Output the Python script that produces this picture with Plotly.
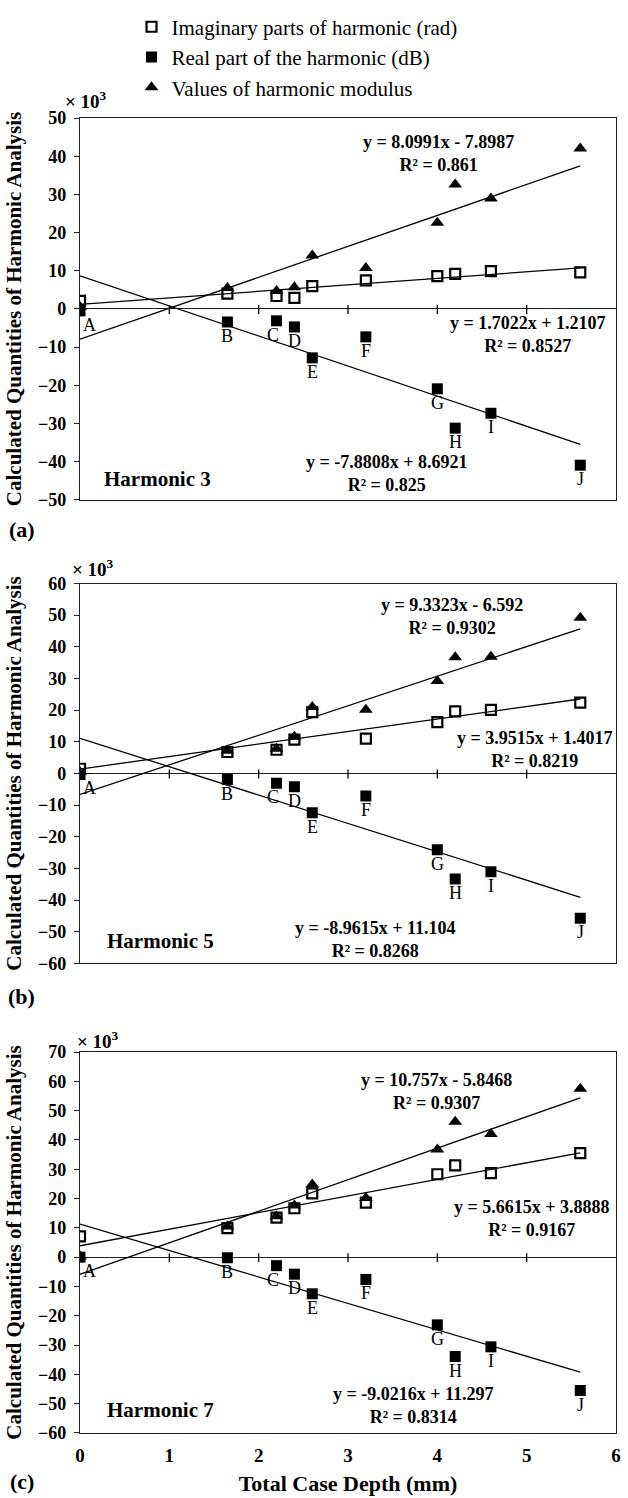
import plotly.graph_objects as go

W, H = 628, 1498
ML, MR, MT, MB = 80, 7, 115, 61
PW, PH = W - ML - MR, H - MT - MB

def px(x):
    return (x - ML) / PW

def py(y):
    return (H - MB - y) / PH

FONT = "Liberation Serif, Times New Roman, serif"

# ---------------- data ----------------
depth_mm = [0, 1.65, 2.2, 2.4, 2.6, 3.2, 4.0, 4.2, 4.6, 5.6]
point_labels = ["A", "B", "C", "D", "E", "F", "G", "H", "I", "J"]
x_ticks = [0, 1, 2, 3, 4, 5, 6]

h3_imag = [2.1, 4.0, 3.4, 2.9, 6.0, 7.5, 8.6, 9.2, 9.9, 9.6]
h3_real = [-0.5, -3.4, -3.1, -4.7, -12.8, -7.3, -20.9, -31.2, -27.3, -40.9]
h3_mod = [0.5, 5.5, 4.7, 5.7, 14.0, 10.7, 22.6, 32.6, 28.9, 42.0]

h5_imag = [1.5, 6.8, 7.5, 10.7, 19.4, 11.0, 16.2, 19.6, 20.1, 22.4]
h5_real = [-0.3, -1.9, -3.1, -4.2, -12.4, -7.1, -24.1, -33.3, -31.0, -45.7]
h5_mod = [0.5, 7.2, 7.8, 11.6, 21.0, 20.1, 29.2, 36.7, 36.9, 49.2]

h7_imag = [7.1, 9.9, 13.5, 16.7, 21.8, 18.6, 28.3, 31.3, 28.7, 35.5]
h7_real = [0.0, -0.2, -2.9, -5.8, -12.5, -7.6, -23.1, -33.9, -30.6, -45.5]
h7_mod = [0.3, 10.5, 14.0, 17.6, 24.8, 20.2, 36.7, 46.2, 42.0, 57.5]

# linear trend coefficients [slope, intercept] and R² as printed on the chart
h3_imag_fit, h3_imag_r2 = [1.7022, 1.2107], "0.8527"
h3_real_fit, h3_real_r2 = [-7.8808, 8.6921], "0.825"
h3_mod_fit, h3_mod_r2 = [8.0991, -7.8987], "0.861"
h5_imag_fit, h5_imag_r2 = [3.9515, 1.4017], "0.8219"
h5_real_fit, h5_real_r2 = [-8.9615, 11.104], "0.8268"
h5_mod_fit, h5_mod_r2 = [9.3323, -6.592], "0.9302"
h7_imag_fit, h7_imag_r2 = [5.6615, 3.8888], "0.9167"
h7_real_fit, h7_real_r2 = [-9.0216, 11.297], "0.8314"
h7_mod_fit, h7_mod_r2 = [10.757, -5.8468], "0.9307"

y_ranges = [[-50, 50], [-60, 60], [-60, 70]]
harmonic_names = ["Harmonic 3", "Harmonic 5", "Harmonic 7"]
panel_tags = ["(a)", "(b)", "(c)"]

series_names = ["Imaginary parts of harmonic (rad)", "Real part of the harmonic (dB)",
                "Values of harmonic modulus"]

panels = [
    dict(imag=h3_imag, real=h3_real, mod=h3_mod,
         fits=[(h3_imag_fit, h3_imag_r2), (h3_real_fit, h3_real_r2), (h3_mod_fit, h3_mod_r2)]),
    dict(imag=h5_imag, real=h5_real, mod=h5_mod,
         fits=[(h5_imag_fit, h5_imag_r2), (h5_real_fit, h5_real_r2), (h5_mod_fit, h5_mod_r2)]),
    dict(imag=h7_imag, real=h7_real, mod=h7_mod,
         fits=[(h7_imag_fit, h7_imag_r2), (h7_real_fit, h7_real_r2), (h7_mod_fit, h7_mod_r2)]),
]

# ---------------- layout geometry (pixels) ----------------
panel_px = [(115, 499), (583, 965), (1054, 1437)]
# equation label centers: (imag, real, mod)
eq_px = [
    [(532, 333), (390, 472), (442, 151)],
    [(539, 750), (378, 941), (455, 616)],
    [(536, 1221), (417, 1409), (440, 1094)],
]
harm_px = [(102, 478), (105, 942), (105, 1414)]
x10_px = [(63, 97), (70, 567), (75, 1042)]
tag_px = [(21, 529), (21, 998), (21, 1486)]
label_dx = [9, 0, -4, 0, 0, 0, 0, 0, 0, 0]

fig = go.Figure()
annotations = []
shapes = []

for i, p in enumerate(panels):
    xa = "x" if i == 0 else f"x{i+1}"
    ya = "y" if i == 0 else f"y{i+1}"
    xfit = [min(depth_mm), max(depth_mm)]
    # trend lines
    for (fit, r2) in p["fits"]:
        fig.add_trace(go.Scatter(
            x=xfit, y=[fit[0] * v + fit[1] for v in xfit], mode="lines",
            line=dict(color="black", width=1.3), showlegend=False, hoverinfo="skip",
            xaxis=xa, yaxis=ya))
    # markers
    fig.add_trace(go.Scatter(
        x=depth_mm, y=p["mod"], mode="markers", name=series_names[2],
        marker=dict(symbol="triangle-up", size=12, color="black"),
        showlegend=(i == 0), legendrank=3, legendgroup="mod", xaxis=xa, yaxis=ya))
    fig.add_trace(go.Scatter(
        x=depth_mm, y=p["imag"], mode="markers", name=series_names[0],
        marker=dict(symbol="square-open", size=10, color="black", line=dict(width=2.2, color="black")),
        showlegend=(i == 0), legendrank=1, legendgroup="imag", xaxis=xa, yaxis=ya))
    fig.add_trace(go.Scatter(
        x=depth_mm, y=p["real"], mode="markers", name=series_names[1],
        marker=dict(symbol="square", size=11, color="black"),
        showlegend=(i == 0), legendrank=2, legendgroup="real", xaxis=xa, yaxis=ya))

    # point labels under the real-part markers
    for xv, yv, lab, dx in zip(depth_mm, p["real"], point_labels, label_dx):
        annotations.append(dict(
            x=xv, y=yv, xref=xa, yref=ya, text=lab, showarrow=False,
            xanchor="center", yanchor="middle", xshift=dx, yshift=-14,
            font=dict(family=FONT, size=18, color="black")))

    # equation labels
    for (fit, r2), (ex, ey) in zip(p["fits"], eq_px[i]):
        sign = "+" if fit[1] >= 0 else "-"
        txt = f"y = {fit[0]:g}x {sign} {abs(fit[1]):g}<br>R² = {r2}"
        annotations.append(dict(
            x=px(ex), y=py(ey), xref="paper", yref="paper", text=txt, showarrow=False,
            xanchor="center", yanchor="middle", align="center", borderpad=0,
            font=dict(family=FONT, size=18, color="black", weight="bold")))
    hx, hy = harm_px[i]
    annotations.append(dict(
        x=px(hx), y=py(hy), xref="paper", yref="paper", text=harmonic_names[i], showarrow=False,
        xanchor="left", yanchor="middle",
        font=dict(family=FONT, size=21, color="black", weight="bold")))
    tx, ty = x10_px[i]
    annotations.append(dict(
        x=px(tx), y=py(ty), xref="paper", yref="paper", text="× 10<sup>3</sup>", showarrow=False,
        xanchor="left", yanchor="middle",
        font=dict(family=FONT, size=19, color="black", weight="bold")))
    gx, gy = tag_px[i]
    annotations.append(dict(
        x=px(gx), y=py(gy), xref="paper", yref="paper", text=panel_tags[i], showarrow=False,
        xanchor="center", yanchor="middle",
        font=dict(family=FONT, size=22, color="black", weight="bold")))
    # tick marks on the zero line
    for t in x_ticks[1:-1]:
        shapes.append(dict(type="line", xref=xa, yref=ya, x0=t, x1=t,
                           ysizemode="pixel", yanchor=0, y0=-5, y1=4,
                           line=dict(color="black", width=1.3)))

    top, bot = panel_px[i]
    axis_common = dict(showline=True, linecolor="#222222", linewidth=1.4, mirror=True,
                       showgrid=False)
    xaxis = dict(axis_common, domain=[0, 1], range=[0, 6], tickvals=x_ticks,
                 showticklabels=(i == 2), ticks="", zeroline=False, anchor=ya,
                 tickfont=dict(family=FONT, size=19, color="black", weight="bold"),
                 ticklabelstandoff=5)
    if i == 2:
        xaxis["title"] = dict(text="Total Case Depth (mm)", standoff=10,
                              font=dict(family=FONT, size=22, color="black", weight="bold"))
    if i > 0:
        xaxis["matches"] = "x"
    yr = y_ranges[i]
    yaxis = dict(axis_common, domain=[py(bot), py(top)], range=yr,
                 tickvals=list(range(yr[0], yr[1] + 1, 10)), ticks="outside", ticklen=5,
                 tickcolor="#222222", ticklabelstandoff=4,
                 zeroline=True, zerolinecolor="#222222", zerolinewidth=1.4, anchor=xa,
                 tickfont=dict(family=FONT, size=18, color="black", weight="bold"),
                 title=dict(text="Calculated Quantities of Harmonic Analysis", standoff=10,
                            font=dict(family=FONT, size=21, color="black", weight="bold")))
    fig.update_layout({("xaxis" if i == 0 else f"xaxis{i+1}"): xaxis,
                       ("yaxis" if i == 0 else f"yaxis{i+1}"): yaxis})

fig.update_layout(
    width=W, height=H,
    margin=dict(l=ML, r=MR, t=MT, b=MB),
    paper_bgcolor="white", plot_bgcolor="white",
    font=dict(family=FONT, color="black"),
    annotations=annotations, shapes=shapes,
    legend=dict(x=px(132), y=py(3), xanchor="left", yanchor="top",
                font=dict(family=FONT, size=21, color="black"),
                bgcolor="rgba(0,0,0,0)", tracegroupgap=0, itemwidth=30),
    showlegend=True,
)

fig.write_html("out.html")
